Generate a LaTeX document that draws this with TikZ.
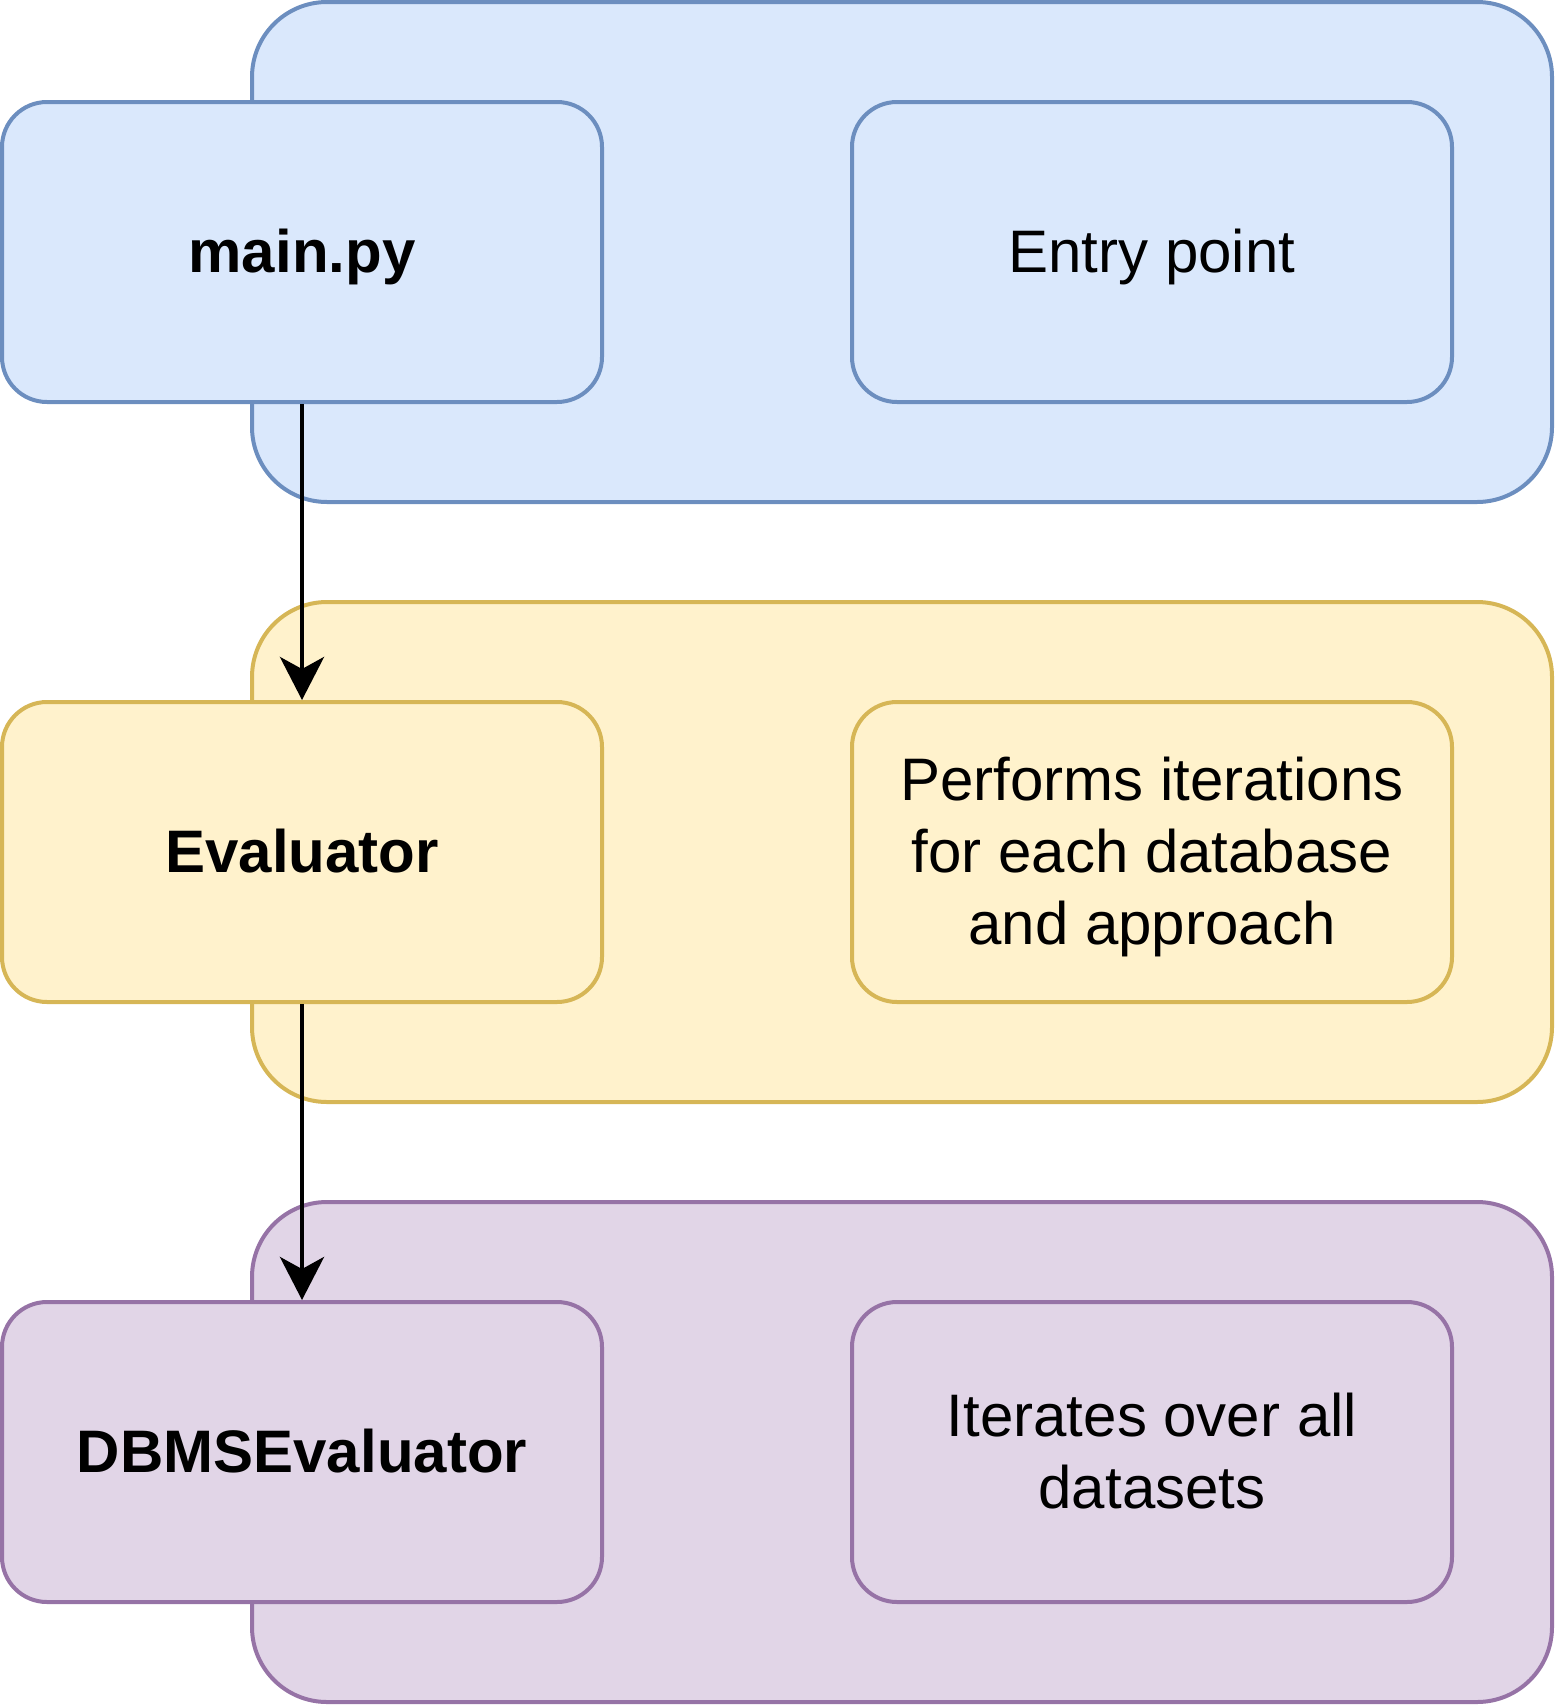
\documentclass[tikz,border=0pt]{standalone}
\usepackage{fontspec}
\setmainfont{Liberation Sans}
\usetikzlibrary{arrows.meta}
\definecolor{bluef}{HTML}{DAE8FC}
\definecolor{blues}{HTML}{6C8EBF}
\definecolor{yelf}{HTML}{FFF2CC}
\definecolor{yels}{HTML}{D6B656}
\definecolor{purf}{HTML}{E1D5E7}
\definecolor{purs}{HTML}{9673A6}
\newcommand\dstrut{\rule[-15.2pt]{0pt}{72pt}}
\tikzset{
  cont/.style={rectangle, line width=4pt, rounded corners=75pt, minimum width=1300pt, minimum height=500pt, inner sep=0pt},
  box/.style={rectangle, line width=4pt, rounded corners=45pt, minimum width=600pt, minimum height=300pt, inner sep=0pt},
  txt/.style={inner sep=0pt, align=center, font=\fontsize{60}{72}\selectfont},
  arr/.style={line width=4.5pt, -{Stealth[length=43pt, width=44pt, inset=12pt]}},
  blue/.style={fill=bluef, draw=blues},
  yel/.style={fill=yelf, draw=yels},
  pur/.style={fill=purf, draw=purs}
}
\begin{document}
\begin{tikzpicture}[x=1pt, y=-1pt]
\useasboundingbox (0,0) rectangle (1555,1705);
% containers
\node[cont, blue] (c1) at (902,252) {};
\node[cont, yel] (c2) at (902,852) {};
\node[cont, pur] (c3) at (902,1452) {};
% boxes
\node[box, blue] (m1) at (302,252) {};
\node[box, blue] (d1) at (1152,252) {};
\node[box, yel] (m2) at (302,852) {};
\node[box, yel] (d2) at (1152,852) {};
\node[box, pur] (m3) at (302,1452) {};
\node[box, pur] (d3) at (1152,1452) {};
% texts
\node[txt] (t1) at (m1.center) {\dstrut\textbf{main.py}};
\node[txt] (u1) at (d1.center) {\dstrut Entry point};
\node[txt] (t2) at (m2.center) {\dstrut\textbf{Evaluator}};
\node[txt] (u2) at (d2.center) {\dstrut Performs iterations\\\dstrut for each database\\\dstrut and approach};
\node[txt] (t3) at (m3.center) {\dstrut\textbf{DBMSEvaluator}};
\node[txt] (u3) at (d3.center) {\dstrut Iterates over all\\\dstrut datasets};
% arrows
\draw[arr] (m1.south) -- (m2.north);
\draw[arr] (m2.south) -- (m3.north);
\end{tikzpicture}
\end{document}
